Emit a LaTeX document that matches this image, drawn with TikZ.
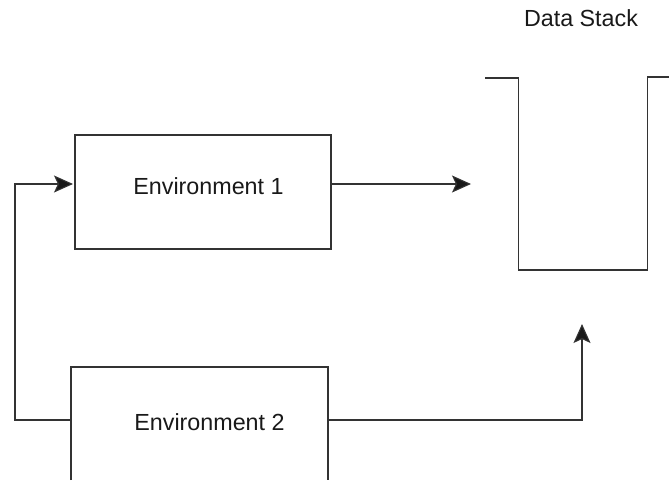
\documentclass[tikz,border=0pt]{standalone}
\usepackage{fontspec}
\setmainfont{Liberation Sans}
\usetikzlibrary{arrows.meta}
\begin{document}
\begin{tikzpicture}[x=1pt,y=-1pt,
  ln/.style={draw=black!80, line width=1.1pt},
  arr/.style={ln, -{Stealth[length=19pt,width=17pt,inset=4pt,fill=black!90]}},
  lbl/.style={font=\fontsize{23.3}{28}\selectfont, text=black!90, inner sep=0pt},
  box/.style={ln, rectangle, inner sep=0pt}]
\useasboundingbox (0,0) rectangle (669,480);
% Environment 1
\node[box, minimum width=256pt, minimum height=114pt] (env1) at (203,192) {};
\node[lbl] (t1) at (208.5,186) {Environment 1};
% Environment 2 (open at the bottom)
\coordinate (e2sw) at (71,480);
\coordinate (e2nw) at (71,367);
\coordinate (e2ne) at (328,367);
\coordinate (e2se) at (328,480);
\draw[ln] (e2sw) -- (e2nw) -- (e2ne) -- (e2se);
\node[lbl] (t2) at (209.5,422) {Environment 2};
\coordinate (e2w) at (71,420);
\coordinate (e2e) at (328,420);
% Data stack
\coordinate (s1) at (485,78);
\coordinate (s2) at (518.5,78);
\coordinate (s3) at (518.5,270);
\coordinate (s4) at (647.5,270);
\coordinate (s5) at (647.5,77);
\coordinate (s6) at (669,77);
\draw[ln] (s1) -- (s2) -- (s3) -- (s4) -- (s5) -- (s6);
\node[lbl] (ds) at (581,18.5) {Data Stack};
% connectors
\coordinate (a1end) at (471,184);
\draw[arr] ([yshift=8pt]env1.east) -- (a1end);
\coordinate (fbl) at (15,420);
\coordinate (fbt) at (15,184);
\coordinate (fbend) at (73,184);
\draw[arr] (e2w) -- (fbl) -- (fbt) -- (fbend);
\coordinate (rc) at (582,420);
\coordinate (rend) at (582,324);
\draw[arr] (e2e) -- (rc) -- (rend);
\end{tikzpicture}
\end{document}
